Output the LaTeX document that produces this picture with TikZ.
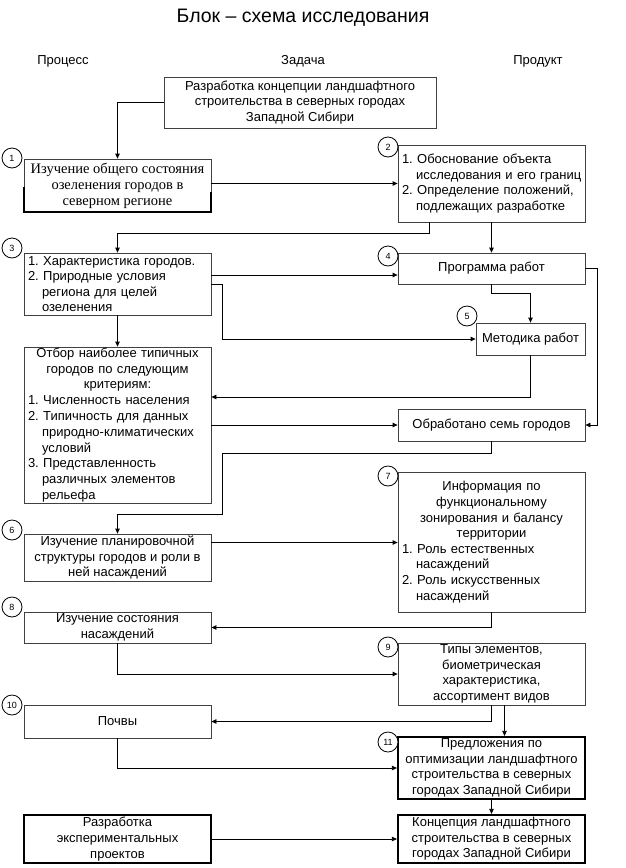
\documentclass[tikz,border=0pt]{standalone}
\usepackage{fontspec}
\setmainfont{Liberation Sans}
\newfontfamily\serifru{Liberation Serif}
\usetikzlibrary{arrows.meta}
\definecolor{boxgray}{HTML}{404040}
\newcommand\myind{\hspace*{14pt}}
\newcommand\ctr[1]{\makebox[179pt][c]{#1}}
\begin{document}
\begin{tikzpicture}[x=1pt,y=-1pt,
  box/.style={draw=boxgray, line width=0.8pt, rectangle, inner sep=0pt,
    minimum width=187pt, font=\fontsize{13}{15.6}\selectfont, align=center},
  listbox/.style={box, align=left, text width=179pt, inner xsep=4pt},
  boldbox/.style={box, draw=black, line width=2.2pt},
  arr/.style={draw=black, line width=0.8pt, -{Triangle[length=5pt,width=4.5pt]}},
  num/.style={circle, draw=black, fill=white, line width=0.8pt,
    minimum size=20pt, inner sep=0pt, font=\fontsize{9}{9}\selectfont},
  head/.style={font=\fontsize{13}{15}\selectfont}
]
\useasboundingbox (0,0) rectangle (625,868);
\fill[white] (0,0) rectangle (625,868);

% title and headings
\node[font=\fontsize{19.5}{22}\selectfont] (title) at (303,18) {Блок – схема исследования};
\node[head] (h1) at (63,61) {Процесс};
\node[head] (h2) at (303,61) {Задача};
\node[head] (h3) at (538,61) {Продукт};

% boxes
\node[box, minimum width=272pt, minimum height=51pt] (top) at (300,102.5)
  {Разработка концепции ландшафтного\\строительства в северных городах\\Западной Сибири};

\node[box, minimum height=53pt, font=\serifru\fontsize{14.5}{16}\selectfont] (b1) at (117.5,185.5)
  {Изучение общего состояния\\озеленения городов в\\северном регионе};

\node[listbox, minimum height=77pt] (b2) at (491.5,183.5)
  {1.~Обоснование объекта\\\mbox{\myind исследования и его границ}\\2.~Определение положений,\\\myind подлежащих разработке};

\node[listbox, minimum height=62pt] (b3) at (117.5,284)
  {1.~Характеристика городов.\\2.~Природные условия\\\myind региона для целей\\\myind озеленения};

\node[box, minimum height=31pt] (b4) at (491.5,268.5) {Программа работ};

\node[box, minimum width=109pt, minimum height=32pt] (b5) at (530.5,339) {Методика работ};

\node[listbox, minimum height=156pt, font=\fontsize{13}{15.8}\selectfont] (otbor) at (117.5,425)
  {\ctr{Отбор наиболее типичных}\\\ctr{городов по следующим}\\\ctr{критериям:}\\
   1.~Численность населения\\2.~Типичность для данных\\\myind природно-климатических\\\myind условий\\
   3.~Представленность\\\myind различных элементов\\\myind рельефа};

\node[box, minimum height=32pt] (obr) at (491.5,425) {Обработано семь городов};

\node[listbox, minimum height=140pt] (b7) at (491.5,542)
  {\ctr{Информация по}\\\ctr{функциональному}\\\ctr{зонирования и балансу}\\\ctr{территории}\\
   1.~Роль естественных\\\myind насаждений\\2.~Роль искусственных\\\myind насаждений};

\node[box, minimum height=47pt] (b6) at (117.5,557.5)
  {Изучение планировочной\\структуры городов и роли в\\ней насаждений};

\node[box, minimum height=31pt] (b8) at (117.5,627.5) {Изучение состояния\\насаждений};

\node[box, minimum height=62pt] (b9) at (491.5,674)
  {Типы элементов,\\биометрическая\\характеристика,\\ассортимент видов};

\node[box, minimum height=33pt] (b10) at (117.5,721.5) {Почвы};

\node[boldbox, minimum height=62pt] (b11) at (491.5,768)
  {Предложения по\\оптимизации ландшафтного\\строительства в северных\\городах Западной Сибири};

\node[boldbox, minimum height=48pt] (b12) at (491.5,839)
  {Концепция ландшафтного\\строительства в северных\\городах Западной Сибири};

\node[boldbox, minimum height=48pt] (razr) at (117.5,839)
  {Разработка\\экспериментальных\\проектов};

% heavy lower edges of box 1
\draw[black, line width=2pt] ([yshift=-28pt]b1.north west) -- (b1.south west) -- (b1.south east) -- ([yshift=-33pt]b1.north east);

% connectors
\draw[arr] (top.west) -| (b1.north);
\draw[arr] (b1.east |- b2.west) -- (b2.west);
\draw[arr] ([xshift=32pt]b2.south west) -- ++(0,11) -| (b3.north);
\draw[arr] (b2.south) -- (b4.north);
\draw[arr] ([yshift=9pt]b3.east) -- ([yshift=9pt]b3.east -| b4.west);
\draw[arr] (b3.east) -- ++(11,0) |- (b5.west);
\draw[arr] (b4.south) -- ++(0,9) -| (b5.north);
\draw[arr] (b4.east) -- ++(12,0) |- (obr.east);
\draw[arr] (b5.south) |- ([yshift=28pt]otbor.east);
\draw[arr] (b3.south) -- (otbor.north);
\draw[arr] (otbor.east) -- (obr.west);
\coordinate (k1) at (222,514);
\draw[arr] (obr.south) -- ++(0,12) -| (k1) -| (b6.north);
\draw[arr] ([yshift=15pt]b6.east) -- ([yshift=15pt]b6.east -| b7.west);
\draw[arr] (b7.south) |- (b8.east);
\draw[arr] (b8.south) |- (b9.west);
\draw[arr] (b9.south) |- (b10.east);
\draw[arr] ([xshift=13pt]b9.south) -- ([xshift=13pt]b9.south |- b11.north);
\draw[arr] (b10.south) |- (b11.west);
\draw[arr] (b11.south) -- (b12.north);
\draw[arr] (razr.east) -- (b12.west);

% number circles
\node[num] (c1) at (12,158) {1};
\node[num] (c2) at (388,147) {2};
\node[num] (c3) at (12,248) {3};
\node[num] (c4) at (388,256) {4};
\node[num] (c5) at (467,316) {5};
\node[num] (c6) at (12,530) {6};
\node[num] (c7) at (388,476) {7};
\node[num] (c8) at (12,607) {8};
\node[num] (c9) at (388,647) {9};
\node[num] (c10) at (12,705) {10};
\node[num] (c11) at (388,742) {11};
\end{tikzpicture}
\end{document}
